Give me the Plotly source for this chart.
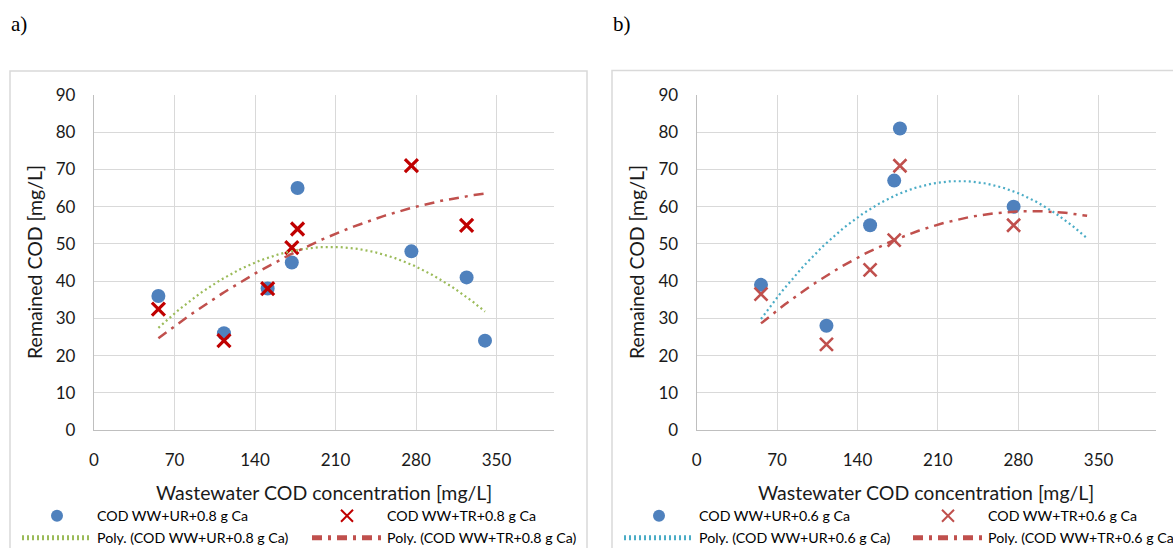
import numpy as np
import plotly.graph_objects as go

W, H = 1173, 548

# Wastewater COD concentration [mg/L] (shared x values)
ww_cod = [56, 113, 151, 172, 177, 276, 324, 340]

# a) 0.8 g Ca
a_ur = [36, 26, 38, 45, 65, 48, 41, 24]
a_tr = [32.5, 24, 38, 49, 54, 71, 55, None]

# b) 0.6 g Ca
b_ur = [39, 28, 55, 67, 81, 60, None, None]
b_tr = [36.5, 23, 43, 51, 71, 55, None, None]

names_a = ["COD WW+UR+0.8 g Ca", "COD WW+TR+0.8 g Ca"]
names_b = ["COD WW+UR+0.6 g Ca", "COD WW+TR+0.6 g Ca"]

x_ticks = [0, 70, 140, 210, 280, 350]
y_ticks = [0, 10, 20, 30, 40, 50, 60, 70, 80, 90]

BLUE = "#4F81BD"
DARK_RED = "#C00000"
RED = "#C0504D"
GREEN = "#9BBB59"
CYAN = "#4BACC6"
GRID = "#D9D9D9"
FONT = "Lato"


def px(x):
    return x / W


def py(y):
    return 1 - y / H


def poly2(xs, ys):
    """Second-order least-squares trendline over the x span of the data."""
    pts = [(x, y) for x, y in zip(xs, ys) if y is not None]
    xa = np.array([p[0] for p in pts], float)
    ya = np.array([p[1] for p in pts], float)
    c = np.polyfit(xa, ya, 2)
    xf = np.linspace(min(xs), max(xs), 150)
    return xf, np.polyval(c, xf)


fig = go.Figure()

panels = [
    dict(xa="x", ya="y", ur=a_ur, tr=a_tr, names=names_a, xmark=DARK_RED,
         xline=3.2, trend_ur=GREEN, legends=["legend", "legend2", "legend3", "legend4"]),
    dict(xa="x2", ya="y2", ur=b_ur, tr=b_tr, names=names_b, xmark=RED,
         xline=2.6, trend_ur=CYAN, legends=["legend5", "legend6", "legend7", "legend8"]),
]

for p in panels:
    fig.add_trace(go.Scatter(
        x=ww_cod, y=p["ur"], mode="markers", name=p["names"][0],
        xaxis=p["xa"], yaxis=p["ya"], legend=p["legends"][0],
        marker=dict(symbol="circle", size=14, color=BLUE)))
    fig.add_trace(go.Scatter(
        x=ww_cod, y=p["tr"], mode="markers", name=p["names"][1],
        xaxis=p["xa"], yaxis=p["ya"], legend=p["legends"][1],
        marker=dict(symbol="x-thin", size=13, color=p["xmark"],
                    line=dict(width=p["xline"], color=p["xmark"]))))
    xf, yf = poly2(ww_cod, p["ur"])
    fig.add_trace(go.Scatter(
        x=xf, y=yf, mode="lines", name="Poly. (" + p["names"][0] + ")",
        xaxis=p["xa"], yaxis=p["ya"], legend=p["legends"][2],
        line=dict(color=p["trend_ur"], width=2.2, dash="2px,3px")))
    xf, yf = poly2(ww_cod, p["tr"])
    fig.add_trace(go.Scatter(
        x=xf, y=yf, mode="lines", name="Poly. (" + p["names"][1] + ")",
        xaxis=p["xa"], yaxis=p["ya"], legend=p["legends"][3],
        line=dict(color=RED, width=2.5, dash="10px,6px,3px,6px")))

axis_common = dict(
    showgrid=True, gridcolor=GRID, gridwidth=1.3,
    showline=True, linecolor="#BFBFBF", linewidth=1.3,
    zeroline=False, ticks="", tickfont=dict(family=FONT, size=17, color="#1a1a1a"),
    ticklabelstandoff=14, fixedrange=True,
)

plot_left = [94, 696.7]
plot_right = [554, 1156]
plot_top, plot_bottom = 95, 430

layout_axes = {}
for i, (l, r) in enumerate(zip(plot_left, plot_right)):
    sfx = "" if i == 0 else "2"
    layout_axes["xaxis" + sfx] = dict(
        axis_common, domain=[px(l), px(r)], range=[0, 400],
        tickvals=x_ticks, anchor="y" + sfx)
    layout_axes["yaxis" + sfx] = dict(
        axis_common, domain=[py(plot_bottom), py(plot_top)], range=[0, 90],
        tickvals=y_ticks, anchor="x" + sfx)

fig.update_layout(**layout_axes)

# Chart frames
shapes = [
    dict(type="rect", xref="paper", yref="paper", x0=px(10), x1=px(587),
         y0=py(560), y1=py(71), line=dict(color=GRID, width=1.5)),
    dict(type="rect", xref="paper", yref="paper", x0=px(612), x1=px(1190),
         y0=py(560), y1=py(70.5), line=dict(color=GRID, width=1.5)),
]

annotations = []
for lbl, x in [("a)", 9), ("b)", 611)]:
    annotations.append(dict(
        text=lbl, x=px(x), y=py(24), xref="paper", yref="paper",
        xanchor="left", yanchor="middle", showarrow=False,
        font=dict(family="Liberation Serif", size=21, color="#000")))
for l, r, ytx in zip(plot_left, plot_right, [34, 636]):
    annotations.append(dict(
        text="Wastewater COD concentration [mg/L]", x=px((l + r) / 2), y=py(492),
        xref="paper", yref="paper", xanchor="center", yanchor="middle",
        showarrow=False, font=dict(family=FONT, size=19.5, color="#1a1a1a")))
    annotations.append(dict(
        text="Remained COD [mg/L]", x=px(ytx), y=py(262), textangle=-90,
        xref="paper", yref="paper", xanchor="center", yanchor="middle",
        showarrow=False, font=dict(family=FONT, size=19.5, color="#1a1a1a")))

# One legend per entry so the entries sit in two columns under each chart
ITEM_W = 70
legend_pos = {
    "legend": (17, 516), "legend2": (307, 516),
    "legend3": (17, 538), "legend4": (307, 538),
    "legend5": (619, 516), "legend6": (908, 516),
    "legend7": (619, 538), "legend8": (908, 538),
}
legends = {}
for k, (x, y) in legend_pos.items():
    legends[k] = dict(
        x=px(x), y=py(y), xref="paper", yref="paper", xanchor="left",
        yanchor="middle", bgcolor="rgba(0,0,0,0)", borderwidth=0,
        itemwidth=ITEM_W, itemsizing="constant", itemclick=False,
        font=dict(family=FONT, size=14.2, color="#000"))

fig.update_layout(
    width=W, height=H, margin=dict(l=0, r=0, t=0, b=0, autoexpand=False),
    paper_bgcolor="white", plot_bgcolor="white", showlegend=True,
    shapes=shapes, annotations=annotations, **legends,
)

fig.write_html(
    "out.html",
    config={"displayModeBar": False},
    post_script="document.body.style.margin='0';document.body.style.overflow='hidden';",
)
